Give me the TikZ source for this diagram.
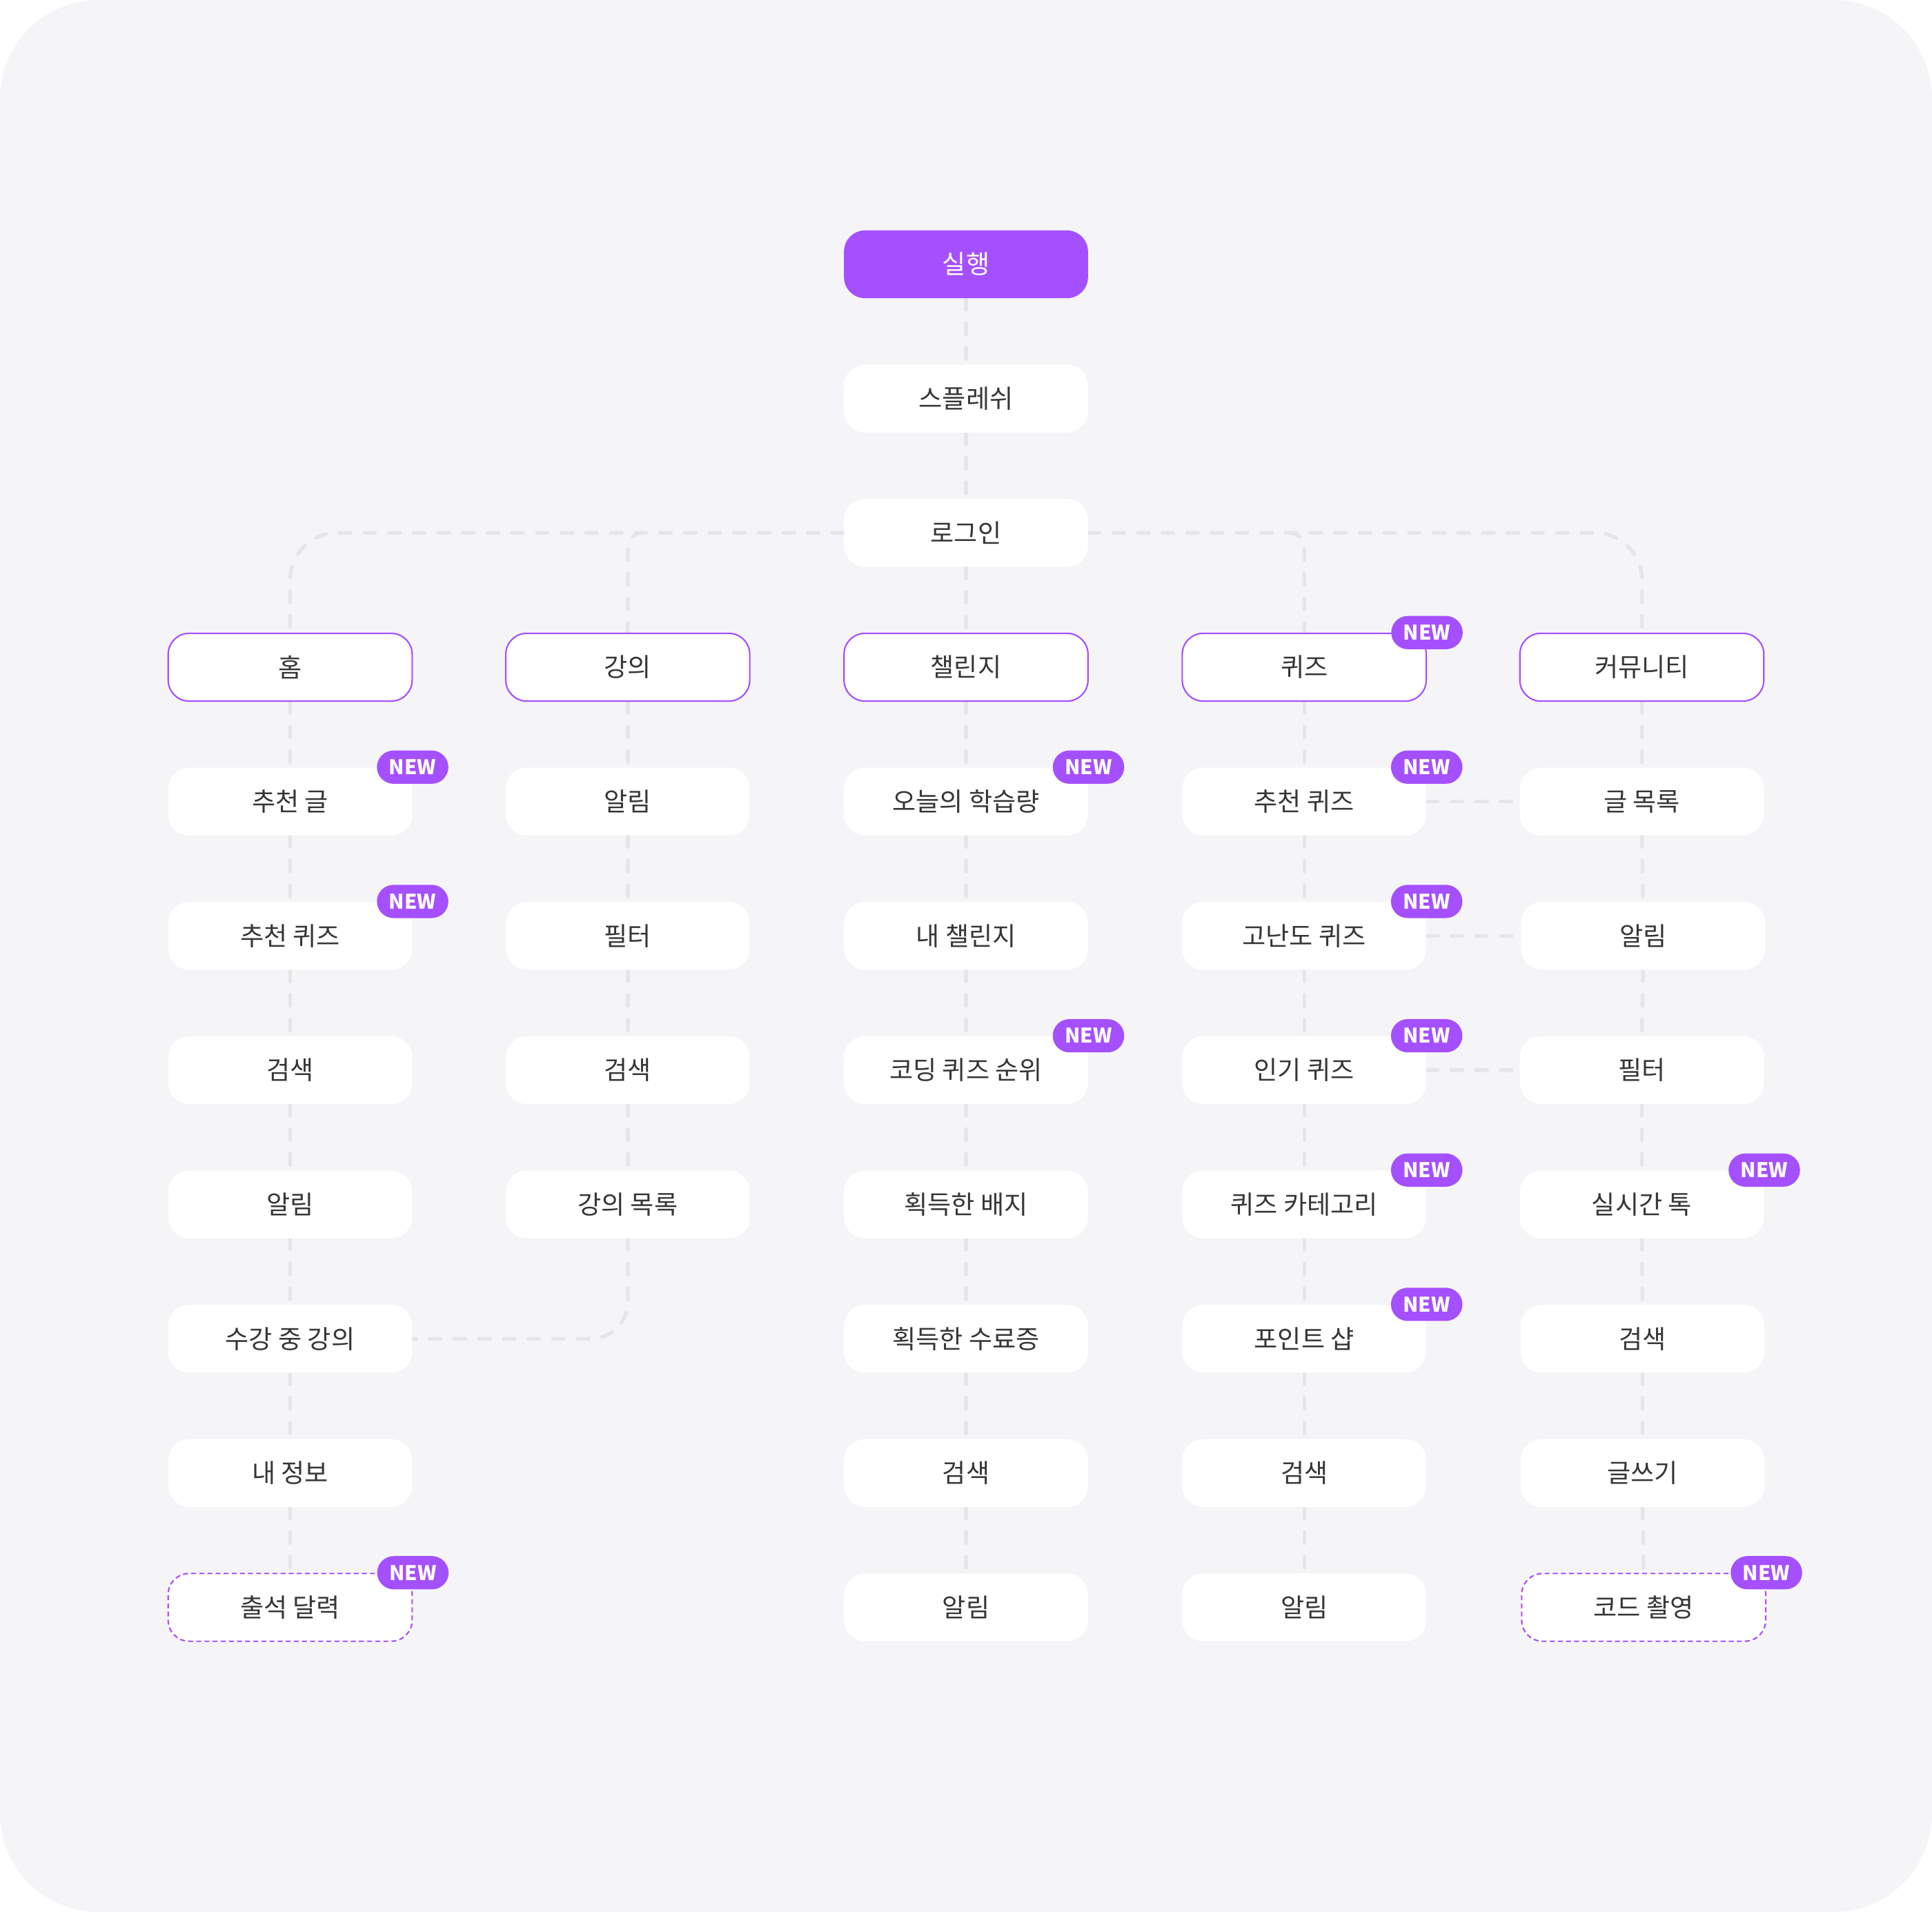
\documentclass[tikz,border=0pt]{standalone}
\usepackage{fontspec}
\setmainfont{Noto Sans CJK KR}
\newfontfamily\badgefont{Noto Sans CJK KR}
\usetikzlibrary{calc}
\pgfdeclarelayer{back}
\pgfdeclarelayer{lines}
\pgfsetlayers{back,lines,main}
\definecolor{bgc}{HTML}{F5F5F7}
\definecolor{pur}{HTML}{A550FF}
\definecolor{linec}{HTML}{E6E6E8}
\definecolor{txt}{HTML}{363636}
\tikzset{
 box/.style={rectangle, rounded corners=8.5pt, minimum width=99pt, minimum height=27.5pt, inner sep=0pt, fill=white, text=txt, font=\fontsize{10.4pt}{12pt}\selectfont},
 catbox/.style={box, draw=pur, line width=0.6pt},
 newbox/.style={box, draw=pur, line width=0.6pt, dash pattern=on 2pt off 1.3pt},
 startbox/.style={box, fill=pur, text=white},
 badge/.style={rectangle, rounded corners=6.75pt, minimum width=29pt, minimum height=13.5pt, inner sep=0pt, fill=pur, text=white, font=\badgefont\bfseries\fontsize{8.2pt}{9pt}\selectfont},
 conn/.style={draw=linec, line width=1.5pt, line cap=round, dash pattern=on 4.5pt off 5.5pt},
}
\begin{document}
\begin{tikzpicture}[x=0.5pt,y=-0.5pt]
\useasboundingbox (0,0) rectangle (1568,1551.76);
\begin{pgfonlayer}{back}
\fill[white] (0,0) rectangle (1568,1551.76);
\fill[bgc, rounded corners=40pt] (0,0) rectangle (1568,1551.76);
\end{pgfonlayer}
% top
\node[startbox] (s0) at (784,214.5) {실행};
\node[box] (s1) at (784,323.5) {스플레쉬};
\node[box] (s2) at (784,432.5) {로그인};
% column 1
\node[catbox] (h0) at (235.5,541.5) {홈};
\node[box] (h1) at (235.5,650.5) {추천 글};
\node[box] (h2) at (235.5,759.5) {추천 퀴즈};
\node[box] (h3) at (235.5,868.5) {검색};
\node[box] (h4) at (235.5,977.5) {알림};
\node[box] (h5) at (235.5,1086.5) {수강 중 강의};
\node[box] (h6) at (235.5,1195.5) {내 정보};
\node[newbox] (h7) at (235.5,1304.5) {출석 달력};
% column 2
\node[catbox] (l0) at (509.5,541.5) {강의};
\node[box] (l1) at (509.5,650.5) {알림};
\node[box] (l2) at (509.5,759.5) {필터};
\node[box] (l3) at (509.5,868.5) {검색};
\node[box] (l4) at (509.5,977.5) {강의 목록};
% column 3
\node[catbox] (c0) at (784,541.5) {챌린지};
\node[box] (c1) at (784,650.5) {오늘의 학습량};
\node[box] (c2) at (784,759.5) {내 챌린지};
\node[box] (c3) at (784,868.5) {코딩 퀴즈 순위};
\node[box] (c4) at (784,977.5) {획득한 배지};
\node[box] (c5) at (784,1086.5) {획득한 수료증};
\node[box] (c6) at (784,1195.5) {검색};
\node[box] (c7) at (784,1304.5) {알림};
% column 4
\node[catbox] (q0) at (1058.5,541.5) {퀴즈};
\node[box] (q1) at (1058.5,650.5) {추천 퀴즈};
\node[box] (q2) at (1058.5,759.5) {고난도 퀴즈};
\node[box] (q3) at (1058.5,868.5) {인기 퀴즈};
\node[box] (q4) at (1058.5,977.5) {퀴즈 카테고리};
\node[box] (q5) at (1058.5,1086.5) {포인트 샵};
\node[box] (q6) at (1058.5,1195.5) {검색};
\node[box] (q7) at (1058.5,1304.5) {알림};
% column 5
\node[catbox] (m0) at (1332.5,541.5) {커뮤니티};
\node[box] (m1) at (1332.5,650.5) {글 목록};
\node[box] (m2) at (1333.5,759.5) {알림};
\node[box] (m3) at (1332.5,868.5) {필터};
\node[box] (m4) at (1332.5,977.5) {실시간 톡};
\node[box] (m5) at (1333,1086.5) {검색};
\node[box] (m6) at (1333,1195.5) {글쓰기};
\node[newbox] (m7) at (1334,1304.5) {코드 촬영};
% badges
\foreach \n in {h1,h2,h7,c1,c3,q0,q1,q2,q3,q4,q5,m4,m7}
  \node[badge] (nb\n) at (\n.north east) {NEW};
% connectors
\begin{pgfonlayer}{lines}
\foreach \a/\b in {s0/s1,s1/s2,s2/c0,c0/c1,c1/c2,c2/c3,c3/c4,c4/c5,c5/c6,c6/c7,
  h0/h1,h1/h2,h2/h3,h3/h4,h4/h5,h5/h6,h6/h7,
  l0/l1,l1/l2,l2/l3,l3/l4,
  q0/q1,q1/q2,q2/q3,q3/q4,q4/q5,q5/q6,q6/q7,
  m0/m1,m1/m2,m2/m3,m3/m4,m4/m5,m5/m6,m6/m7}
  \draw[conn] (\a.south) -- (\b.north);
\draw[conn, rounded corners=19pt] (s2.west) -| (h0.north);
\draw[conn, rounded corners=19pt] (s2.east) -| (m0.north);
\draw[conn, rounded corners=6pt] ($(s2.west -| l0.north)+(12,0)$) -| (l0.north);
\draw[conn, rounded corners=6pt] ($(s2.east -| q0.north)+(-12,0)$) -| (q0.north);
\draw[conn, rounded corners=15pt] (l4.south) |- (h5.east);
\draw[conn] (q1.east) -- (m1.west);
\draw[conn] (q2.east) -- (m2.west);
\draw[conn] (q3.east) -- (m3.west);
\end{pgfonlayer}
\end{tikzpicture}
\end{document}
